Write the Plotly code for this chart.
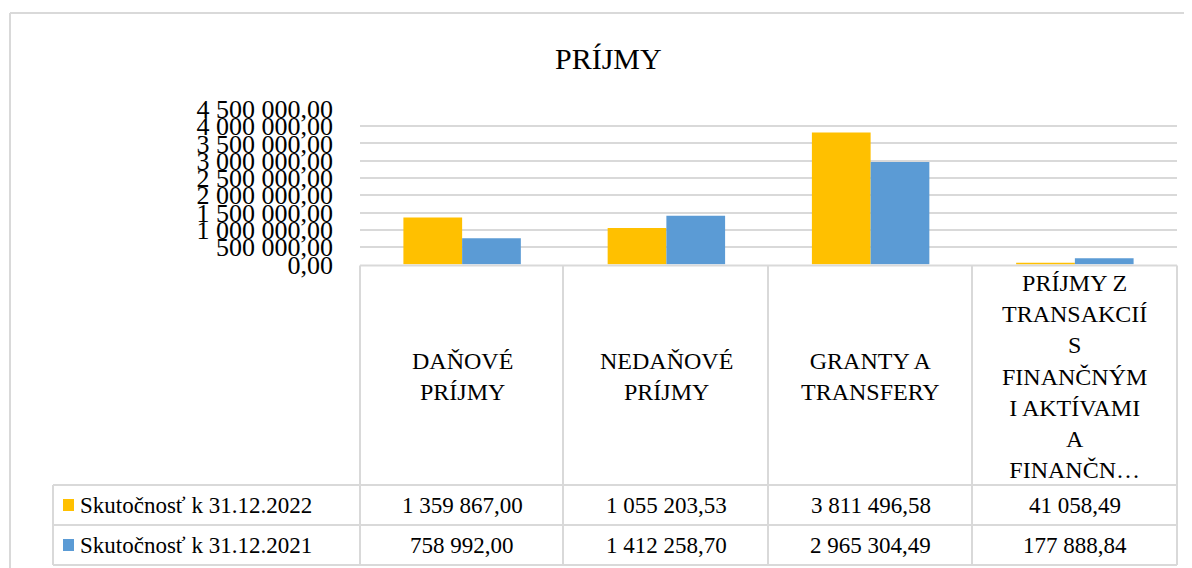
import plotly.graph_objects as go

# ---- data ----
categories = ["DAŇOVÉ PRÍJMY", "NEDAŇOVÉ PRÍJMY", "GRANTY A TRANSFERY",
              "PRÍJMY Z TRANSAKCIÍ S FINANČNÝMI AKTÍVAMI A FINANČN…"]
category_labels = ["DAŇOVÉ<br>PRÍJMY", "NEDAŇOVÉ<br>PRÍJMY", "GRANTY A<br>TRANSFERY",
                   "PRÍJMY Z<br>TRANSAKCIÍ<br>S<br>FINANČNÝM<br>I AKTÍVAMI<br>A<br>FINANČN…"]
series_names = ["Skutočnosť k 31.12.2022", "Skutočnosť k 31.12.2021"]
values_2022 = [1359867.00, 1055203.53, 3811496.58, 41058.49]
values_2021 = [758992.00, 1412258.70, 2965304.49, 177888.84]
y_ticks = [0, 500000, 1000000, 1500000, 2000000, 2500000, 3000000, 3500000, 4000000, 4500000]
colors = ["#FFC000", "#5B9BD5"]

OFF = 8  # page body margin
W, H = 1192 - OFF, 568 - OFF
FONT = "Liberation Serif"
GRID = "#D9D9D9"


def fmt(v):
    return f"{v:,.2f}".replace(",", " ").replace(".", ",")


def py(p):  # screen pixel y -> paper y
    return 1 - (p - OFF) / H


def px(p):  # screen pixel x -> paper x
    return (p - OFF) / W


x0, x1 = 360, 1177
y_top, y_zero = 108.8, 264.5
row1_bot, row2_bot, row3_bot = 485, 525, 565
left_col = 53

fig = go.Figure()
for name, vals, c in zip(series_names, [values_2022, values_2021], colors):
    fig.add_trace(go.Bar(x=categories, y=vals, name=name, marker_color=c,
                         marker_line_width=0, showlegend=False))

shapes = []
line = dict(color=GRID, width=2)
# chart outer border
shapes.append(dict(type="line", xref="paper", yref="paper", x0=px(10), x1=px(1192), y0=py(13), y1=py(13), line=line))
shapes.append(dict(type="line", xref="paper", yref="paper", x0=px(10), x1=px(10), y0=py(13), y1=py(568), line=line))
# table horizontal lines
shapes.append(dict(type="line", xref="paper", yref="paper", x0=px(x0), x1=px(x1), y0=py(y_zero + 1), y1=py(y_zero + 1), line=line))
for yy in [row1_bot, row2_bot, row3_bot]:
    shapes.append(dict(type="line", xref="paper", yref="paper", x0=px(left_col), x1=px(x1), y0=py(yy), y1=py(yy), line=line))
# table vertical lines
for xx in [360, 563, 768, 972, 1177]:
    shapes.append(dict(type="line", xref="paper", yref="paper", x0=px(xx), x1=px(xx), y0=py(y_zero + 1), y1=py(row3_bot), line=line))
shapes.append(dict(type="line", xref="paper", yref="paper", x0=px(left_col), x1=px(left_col), y0=py(row1_bot), y1=py(row3_bot), line=line))
# legend keys
for c, yc in zip(colors, [505, 545]):
    shapes.append(dict(type="rect", xref="paper", yref="paper", x0=px(63), x1=px(74), y0=py(yc - 6), y1=py(yc + 6),
                       fillcolor=c, line=dict(width=0)))

annotations = []
annotations.append(dict(text="PRÍJMY", xref="paper", yref="paper", x=px(608), y=py(58), showarrow=False,
                        font=dict(family=FONT, size=30, color="#000"), xanchor="center", yanchor="middle"))
for cat, lab in zip(categories, category_labels):
    annotations.append(dict(text=lab, xref="x", yref="paper", x=cat, y=py((y_zero + row1_bot) / 2 + 2),
                            showarrow=False, font=dict(family=FONT, size=24, color="#000"),
                            xanchor="center", yanchor="middle", align="center"))
for name, vals, yc in zip(series_names, [values_2022, values_2021], [505, 545]):
    annotations.append(dict(text=name, xref="paper", yref="paper", x=px(78), y=py(yc), showarrow=False,
                            font=dict(family=FONT, size=23, color="#000"), xanchor="left", yanchor="middle"))
    for cat, v in zip(categories, vals):
        annotations.append(dict(text=fmt(v), xref="x", yref="paper", x=cat, y=py(yc), showarrow=False,
                                font=dict(family=FONT, size=23, color="#000"), xanchor="center", yanchor="middle"))

fig.update_layout(
    width=W, height=H, margin=dict(l=0, r=0, t=0, b=0, pad=0),
    paper_bgcolor="white", plot_bgcolor="white",
    font=dict(family=FONT, color="#000"),
    barmode="group", bargap=0.425, bargroupgap=0,
    shapes=shapes, annotations=annotations,
    xaxis=dict(domain=[px(x0), px(x1)], showticklabels=False, showgrid=False, showline=False, zeroline=False,
               fixedrange=True, automargin=False),
    yaxis=dict(domain=[py(y_zero), py(y_top)], range=[0, 4500000], tickvals=y_ticks,
               ticktext=[fmt(v) for v in y_ticks], showgrid=True, gridcolor=GRID, gridwidth=2,
               zeroline=False, showline=False, ticks="", ticklabelstandoff=26, automargin=False,
               tickfont=dict(family=FONT, size=26, color="#000"), fixedrange=True),
)

fig.write_html("out.html")
